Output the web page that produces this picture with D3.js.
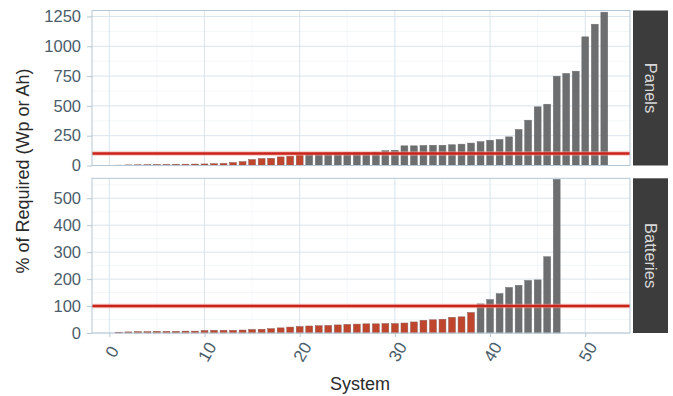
<!DOCTYPE html>
<html><head><meta charset="utf-8">
<script src="https://cdn.jsdelivr.net/npm/d3@7"></script>
<style>body{margin:0;background:#fff;} svg{display:block;font-family:"Liberation Sans",Arial,sans-serif;}</style>
</head><body>
<script>
// ---- data ----
const panelSystems = d3.range(1, 53);
const panelValues = [3,5,6,7,8,9,10,11,12,13,15,18,25,32,50,58,60,72,78,88,
  102,104,105,106,107,108,110,112,124,128,165,165,168,170,170,174,179,188,200,212,
  218,240,302,380,492,514,749,772,791,1079,1185,1286];
const batterySystems = d3.range(1, 48);
const batteryValues = [3,4,5,5,6,6,6,7,7,9,10,10,10,11,13,14,16,19,22,24,
  26,27,28,30,32,33,34,34,35,35,37,41,47,49,51,58,60,76,108,124,
  146,169,177,195,197,283,570];
const xTicks = [0,10,20,30,40,50];
const panelYTicks = [0,250,500,750,1000,1250];
const batteryYTicks = [0,100,200,300,400,500];
const threshold = 100;
const facetLabels = ["Panels","Batteries"];

const W = 673, H = 396;
const svg = d3.select("body").append("svg").attr("width", W).attr("height", H);

const x = d3.scaleLinear().domain([-1.82, 54.7]).range([92, 630]);
const barW = 0.72;

const facets = [
  {label: facetLabels[0], xs: panelSystems, vals: panelValues, ticks: panelYTicks,
   y: d3.scaleLinear().domain([0, 1300]).range([165.5, 10.5]), minorStep: 125},
  {label: facetLabels[1], xs: batterySystems, vals: batteryValues, ticks: batteryYTicks,
   y: d3.scaleLinear().domain([0, 574]).range([333, 178.3]), minorStep: 50}
];

const gridCol = "#d9e4ec", minorCol = "#edf2f6", borderCol = "#b5c7d4", tickTextCol = "#4b5d6a";

facets.forEach(f => {
  const g = svg.append("g");
  const [y0, y1] = f.y.range();
  const [x0, x1] = x.range();
  const minorY = d3.range(f.minorStep, f.y.domain()[1], f.minorStep*2);
  g.selectAll(".my").data(minorY).join("line")
    .attr("x1", x0).attr("x2", x1).attr("y1", d => f.y(d)).attr("y2", d => f.y(d))
    .attr("stroke", minorCol).attr("stroke-width", 0.6);
  const minorX = [5,15,25,35,45];
  g.selectAll(".mx").data(minorX).join("line")
    .attr("y1", y0).attr("y2", y1).attr("x1", d => x(d)).attr("x2", d => x(d))
    .attr("stroke", minorCol).attr("stroke-width", 0.6);
  g.selectAll(".gy").data(f.ticks).join("line")
    .attr("x1", x0).attr("x2", x1).attr("y1", d => f.y(d)).attr("y2", d => f.y(d))
    .attr("stroke", gridCol).attr("stroke-width", 1);
  g.selectAll(".gx").data(xTicks).join("line")
    .attr("y1", y0).attr("y2", y1).attr("x1", d => x(d)).attr("x2", d => x(d))
    .attr("stroke", gridCol).attr("stroke-width", 1);
  const data = f.xs.map((s, i) => ({s, v: f.vals[i]}));
  g.selectAll(".bar").data(data).join("rect")
    .attr("x", d => x(d.s - barW/2))
    .attr("width", x(barW) - x(0))
    .attr("y", d => f.y(d.v))
    .attr("height", d => f.y(0) - f.y(d.v))
    .attr("fill", d => d.v < threshold ? "#c0452d" : "#6c6e70")
    .attr("stroke", d => d.v < threshold ? "#8a5a55" : "#6c6e70")
    .attr("stroke-width", 0.5);
  g.append("line").attr("x1", x0).attr("x2", x1)
    .attr("y1", f.y(threshold)).attr("y2", f.y(threshold))
    .attr("stroke", "#f0a090").attr("stroke-width", 4.5).attr("opacity", 0.6);
  g.append("line").attr("x1", x0).attr("x2", x1)
    .attr("y1", f.y(threshold)).attr("y2", f.y(threshold))
    .attr("stroke", "#c9231c").attr("stroke-width", 2.5);
  g.append("rect").attr("x", x0).attr("y", y1).attr("width", x1 - x0).attr("height", y0 - y1)
    .attr("fill", "none").attr("stroke", borderCol).attr("stroke-width", 1);
  const ax = g.append("g").attr("transform", `translate(${x0},0)`)
    .call(d3.axisLeft(f.y).tickValues(f.ticks).tickSize(5).tickPadding(6).tickFormat(d3.format("d")));
  ax.select(".domain").remove();
  ax.selectAll(".tick line").attr("stroke", borderCol);
  ax.selectAll(".tick text").attr("fill", tickTextCol).attr("font-size", 16.5)
    .attr("font-family", "Liberation Sans, Arial, sans-serif");
  g.append("rect").attr("x", 633).attr("y", y1).attr("width", 35).attr("height", y0 - y1)
    .attr("fill", "#3c3c3c");
  g.append("text").attr("transform", `translate(650.5,${(y0 + y1)/2}) rotate(90)`)
    .attr("text-anchor", "middle").attr("dominant-baseline", "central")
    .attr("fill", "#d8d8d8").attr("font-size", 16.5).text(f.label);
});

const bottomY = facets[1].y.range()[0];
const xa = svg.append("g").attr("transform", `translate(0,${bottomY})`)
  .call(d3.axisBottom(x).tickValues(xTicks).tickSize(4).tickFormat(""));
xa.select(".domain").remove();
xa.selectAll(".tick line").attr("stroke", borderCol);
svg.selectAll(".xlab").data(xTicks).join("text")
  .attr("transform", d => `translate(${x(d) + 3},${bottomY + 19}) rotate(-60)`)
  .attr("text-anchor", "middle").attr("dominant-baseline", "central")
  .attr("fill", tickTextCol).attr("font-size", 17).text(d => d);

svg.append("text").attr("x", 360).attr("y", 390).attr("text-anchor", "middle")
  .attr("fill", "#2a2a2a").attr("font-size", 18).text("System");
svg.append("text").attr("transform", `translate(23,171) rotate(-90)`)
  .attr("text-anchor", "middle").attr("dominant-baseline", "central")
  .attr("fill", "#2a2a2a").attr("font-size", 18).text("% of Required (Wp or Ah)");
</script>
</body></html>
